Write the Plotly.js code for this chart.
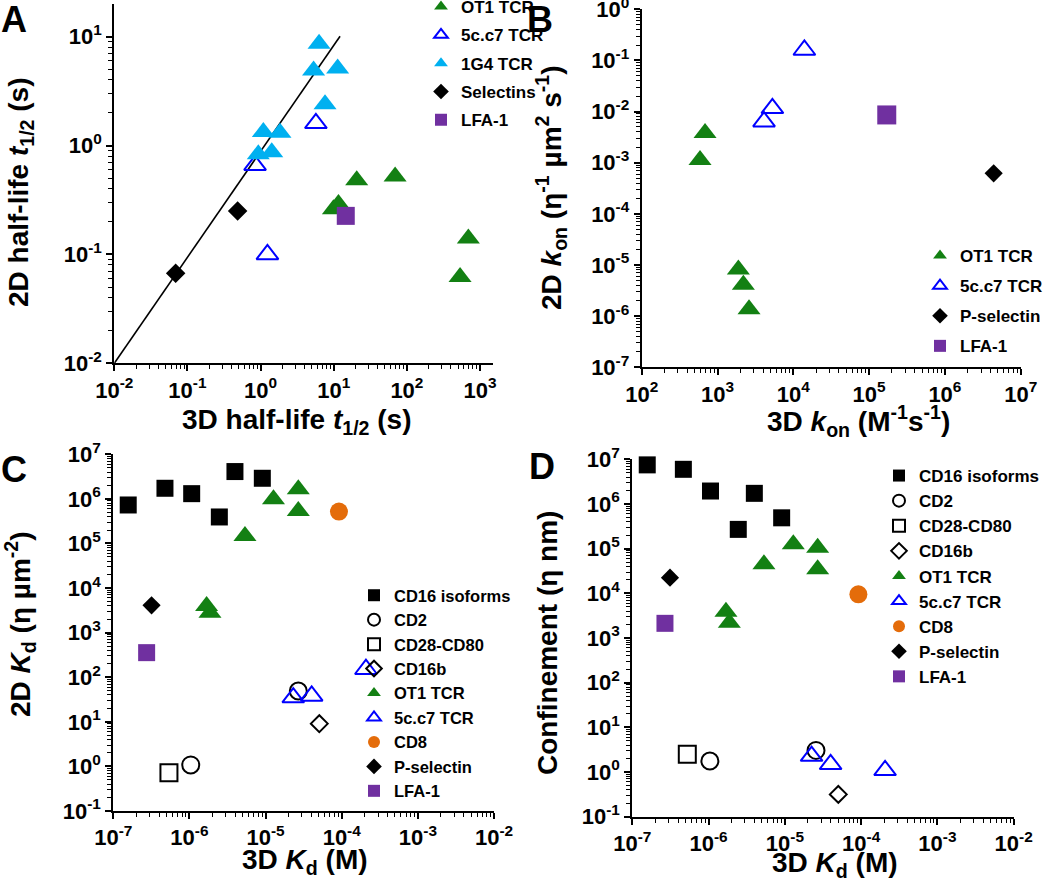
<!DOCTYPE html>
<html>
<head>
<meta charset="utf-8">
<script src="https://cdn.plot.ly/plotly-3.0.1.min.js"></script>
<style>html,body{margin:0;padding:0;background:#fff;}#chart{width:1050px;height:882px;}</style>
</head>
<body>
<div id="chart"></div>
<script>
// ---------- Panel A: 2D vs 3D half-life (s) ----------
const aOT1x = [20.6, 69, 9.9, 11.6, 692, 533];
const aOT1y = [0.48, 0.52, 0.26, 0.29, 0.14, 0.062];
const a5cc7x = [0.84, 5.7, 1.24];
const a5cc7y = [0.66, 1.6, 0.10];
const a1G4x = [6.3, 5.3, 11.3, 7.6, 1.09, 1.84, 0.93, 1.42];
const a1G4y = [8.6, 4.9, 5.1, 2.4, 1.33, 1.31, 0.83, 0.87];
const aSelx = [0.485, 0.069];
const aSely = [0.25, 0.067];
const aLFAx = [14.6];
const aLFAy = [0.226];
const aLinex = [0.01, 12.2];
const aLiney = [0.01, 10.1];

// ---------- Panel B: 2D kon vs 3D kon ----------
const bOT1x = [685, 588, 1885, 2194, 2606];
const bOT1y = [0.0038, 0.00113, 8.2e-6, 4.1e-6, 1.36e-6];
const b5cc7x = [14000, 5300, 4110];
const b5cc7y = [0.16, 0.0116, 0.00635];
const bPselx = [4.4e6];
const bPsely = [6.2e-4];
const bLFAx = [1.71e5];
const bLFAy = [0.0086];

// ---------- Panel C: 2D Kd vs 3D Kd ----------
const cCD16x = [1.57e-7, 4.77e-7, 1.07e-6, 2.47e-6, 3.96e-6, 9.06e-6];
const cCD16y = [7.3e5, 1.73e6, 1.31e6, 3.93e5, 4.1e6, 2.9e6];
const cCD2x = [2.69e-5, 1.04e-6];
const cCD2y = [49, 1.08];
const cCD28x = [5.38e-7];
const cCD28y = [0.72];
const cCD16bx = [5.08e-5];
const cCD16by = [9.1];
const cOT1x = [2.69e-5, 1.27e-5, 2.69e-5, 5.36e-6, 1.68e-6, 1.86e-6];
const cOT1y = [1.64e6, 9.8e5, 5.35e5, 1.47e5, 3960, 2810];
const c5cc7x = [2.31e-5, 4.03e-5, 2.08e-4];
const c5cc7y = [35, 38, 151];
const cCD8x = [9.2e-5];
const cCD8y = [5.2e5];
const cPselx = [3.18e-7];
const cPsely = [4100];
const cLFAx = [2.74e-7];
const cLFAy = [356];

// ---------- Panel D: Confinement vs 3D Kd ----------
const dCD16x = [1.57e-7, 4.67e-7, 1.06e-6, 3.98e-6, 9.08e-6, 2.45e-6];
const dCD16y = [7.5e6, 5.97e6, 1.95e6, 1.73e6, 4.9e5, 2.7e5];
const dCD2x = [2.56e-5, 1.04e-6];
const dCD2y = [3.05, 1.76];
const dCD28x = [5.26e-7];
const dCD28y = [2.49];
const dCD16bx = [5.02e-5];
const dCD16by = [0.316];
const dOT1x = [1.29e-5, 2.69e-5, 2.69e-5, 5.32e-6, 1.69e-6, 1.87e-6];
const dOT1y = [1.25e5, 1.05e5, 3.44e4, 4.46e4, 3890, 2200];
const d5cc7x = [2.24e-5, 3.98e-5, 2.06e-4];
const d5cc7y = [2.28, 1.49, 1.09];
const dCD8x = [9.2e-5];
const dCD8y = [9500];
const dPselx = [3.12e-7];
const dPsely = [2.24e4];
const dLFAx = [2.68e-7];
const dLFAy = [2130];

// tick labels (exponents of 10)
const aXticks = [-2, -1, 0, 1, 2, 3];
const aYticks = [-2, -1, 0, 1];
const bXticks = [2, 3, 4, 5, 6, 7];
const bYticks = [-7, -6, -5, -4, -3, -2, -1, 0];
const cdXticks = [-7, -6, -5, -4, -3, -2];
const cdYticks = [-1, 0, 1, 2, 3, 4, 5, 6, 7];

// ---------- styles ----------
const GREEN = '#138013', BLUE = '#0000ff', LBLUE = '#00b0f0', PURPLE = '#7030a0', ORANGE = '#e46c0a', BLACK = '#000000';
const FONT = 'Liberation Sans, Arial, sans-serif';

function pw(e) { return e.map(v => Math.pow(10, v)); }
function lab(e) { return e.map(v => '<b>10<sup>' + v + '</sup></b>'); }

function tr(x, y, name, sym, color, size, xa, ya, leg, open) {
  return {
    type: 'scatter', mode: 'markers', x: x, y: y, name: '<b>' + name + '</b>',
    xaxis: xa, yaxis: ya, legend: leg, legendgroup: leg + name,
    cliponaxis: false,
    marker: {
      symbol: sym, size: size, color: color,
      line: open ? { color: color, width: 2 } : { width: 0 }
    }
  };
}

const data = [
  { type: 'scatter', mode: 'lines', x: aLinex, y: aLiney, xaxis: 'x', yaxis: 'y',
    line: { color: 'black', width: 1.6 }, showlegend: false, hoverinfo: 'skip', legend: 'legend5' },
  tr(aOT1x, aOT1y, 'OT1 TCR', 'triangle-up', GREEN, 20, 'x', 'y', 'legend5'),
  tr(a5cc7x, a5cc7y, '5c.c7 TCR', 'triangle-up-open', BLUE, 19, 'x', 'y', 'legend5', true),
  tr(a1G4x, a1G4y, '1G4 TCR', 'triangle-up', LBLUE, 20, 'x', 'y', 'legend5'),
  tr(aSelx, aSely, 'Selectins', 'diamond', BLACK, 15, 'x', 'y', 'legend5'),
  tr(aLFAx, aLFAy, 'LFA-1', 'square', PURPLE, 18, 'x', 'y', 'legend5'),

  tr(bOT1x, bOT1y, 'OT1 TCR', 'triangle-up', GREEN, 20, 'x2', 'y2', 'legend2'),
  tr(b5cc7x, b5cc7y, '5c.c7 TCR', 'triangle-up-open', BLUE, 19, 'x2', 'y2', 'legend2', true),
  tr(bPselx, bPsely, 'P-selectin', 'diamond', BLACK, 14, 'x2', 'y2', 'legend2'),
  tr(bLFAx, bLFAy, 'LFA-1', 'square', PURPLE, 19, 'x2', 'y2', 'legend2'),

  tr(cCD16x, cCD16y, 'CD16 isoforms', 'square', BLACK, 17, 'x3', 'y3', 'legend3'),
  tr(cCD2x, cCD2y, 'CD2', 'circle-open', BLACK, 17, 'x3', 'y3', 'legend3', true),
  tr(cCD28x, cCD28y, 'CD28-CD80', 'square-open', BLACK, 17, 'x3', 'y3', 'legend3', true),
  tr(cCD16bx, cCD16by, 'CD16b', 'diamond-open', BLACK, 13, 'x3', 'y3', 'legend3', true),
  tr(cOT1x, cOT1y, 'OT1 TCR', 'triangle-up', GREEN, 20, 'x3', 'y3', 'legend3'),
  tr(c5cc7x, c5cc7y, '5c.c7 TCR', 'triangle-up-open', BLUE, 19, 'x3', 'y3', 'legend3', true),
  tr(cCD8x, cCD8y, 'CD8', 'circle', ORANGE, 18, 'x3', 'y3', 'legend3'),
  tr(cPselx, cPsely, 'P-selectin', 'diamond', BLACK, 14, 'x3', 'y3', 'legend3'),
  tr(cLFAx, cLFAy, 'LFA-1', 'square', PURPLE, 17, 'x3', 'y3', 'legend3'),

  tr(dCD16x, dCD16y, 'CD16 isoforms', 'square', BLACK, 17, 'x4', 'y4', 'legend4'),
  tr(dCD2x, dCD2y, 'CD2', 'circle-open', BLACK, 17, 'x4', 'y4', 'legend4', true),
  tr(dCD28x, dCD28y, 'CD28-CD80', 'square-open', BLACK, 17, 'x4', 'y4', 'legend4', true),
  tr(dCD16bx, dCD16by, 'CD16b', 'diamond-open', BLACK, 13, 'x4', 'y4', 'legend4', true),
  tr(dOT1x, dOT1y, 'OT1 TCR', 'triangle-up', GREEN, 20, 'x4', 'y4', 'legend4'),
  tr(d5cc7x, d5cc7y, '5c.c7 TCR', 'triangle-up-open', BLUE, 19, 'x4', 'y4', 'legend4', true),
  tr(dCD8x, dCD8y, 'CD8', 'circle', ORANGE, 18, 'x4', 'y4', 'legend4'),
  tr(dPselx, dPsely, 'P-selectin', 'diamond', BLACK, 14, 'x4', 'y4', 'legend4'),
  tr(dLFAx, dLFAy, 'LFA-1', 'square', PURPLE, 17, 'x4', 'y4', 'legend4')
];

const W = 1050, H = 882;
function fx(px) { return px / W; }
function fy(py) { return 1 - py / H; }

function axis(domain, range, ticks, anchor) {
  return {
    type: 'log', domain: domain, range: range, anchor: anchor,
    tickmode: 'array', tickvals: pw(ticks), ticktext: lab(ticks),
    showgrid: false, zeroline: false, showline: true, linecolor: 'black', linewidth: 2,
    ticks: 'outside', ticklen: 6, tickwidth: 2, tickcolor: 'black',
    ticklabeloverflow: 'allow',
    minor: { dtick: 'D1', ticks: 'outside', ticklen: 4, tickwidth: 1, tickcolor: 'black', showgrid: false },
    tickfont: { family: FONT, size: 22, color: 'black' },
    fixedrange: true
  };
}

function leg(xpx, ypx, gap, size, yanchor) {
  return { x: fx(xpx), y: fy(ypx), xref: 'paper', yref: 'paper', xanchor: 'left', yanchor: yanchor || 'top',
    bgcolor: 'rgba(0,0,0,0)',
    font: { family: FONT, size: size, color: 'black' },
    itemsizing: 'constant', traceorder: 'grouped', tracegroupgap: gap, borderwidth: 0 };
}

function ann(text, xpx, ypx, size, angle) {
  return { text: '<b>' + text + '</b>', xref: 'paper', yref: 'paper', x: fx(xpx), y: fy(ypx),
    xanchor: 'center', yanchor: 'middle', showarrow: false, textangle: angle || 0,
    font: { family: FONT, size: size, color: 'black' } };
}

const layout = {
  width: W, height: H, margin: { l: 0, r: 0, t: 0, b: 0, autoexpand: false },
  paper_bgcolor: 'white', plot_bgcolor: 'white', showlegend: true,
  xaxis: axis([fx(114.3), fx(492.7)], [-2, 3.173], aXticks, 'y'),
  yaxis: axis([fy(363.3), fy(4)], [-2, 1.3], aYticks, 'x'),
  xaxis2: axis([fx(641.7), fx(1020.7)], [2, 7], bXticks, 'y2'),
  yaxis2: axis([fy(367.3), fy(9.3)], [-7, 0], bYticks, 'x2'),
  xaxis3: axis([fx(113.3), fx(494)], [-7, -2], cdXticks, 'y3'),
  yaxis3: axis([fy(811), fy(454.3)], [-1, 7], cdYticks, 'x3'),
  xaxis4: axis([fx(632.3), fx(1013.7)], [-7, -2], cdXticks, 'y4'),
  yaxis4: axis([fy(816.7), fy(459.3)], [-1, 7], cdYticks, 'x4'),
  legend: { x: 0, y: 0, visible: false },
  legend5: leg(421, 138, 3.2, 17, 'bottom'),
  legend2: leg(920, 238, 5, 17),
  legend3: leg(354, 578, 0, 16.5),
  legend4: leg(879, 458, 0, 17),
  annotations: [
    ann('A', 14, 20, 36), ann('B', 540, 20, 36), ann('C', 14, 469, 36), ann('D', 542, 467, 36),
    ann('3D half-life <i>t</i><sub>1/2</sub> (s)', 297, 421, 28),
    ann('2D half-life <i>t</i><sub>1/2</sub> (s)', 20, 192, 28, -90),
    ann('3D <i>k</i><sub>on</sub> (M<sup>-1</sup>s<sup>-1</sup>)', 858, 421, 28),
    ann('2D <i>k</i><sub>on</sub> (η<sup>-1</sup> µm<sup>2</sup> s<sup>-1</sup>)', 551, 188, 28, -90),
    ann('3D <i>K</i><sub>d</sub> (M)', 305, 861, 28),
    ann('2D <i>K</i><sub>d</sub> (η µm<sup>-2</sup>)', 20, 624, 28, -90),
    ann('3D <i>K</i><sub>d</sub> (M)', 835, 864, 28),
    ann('Confinement (η nm)', 547, 643, 28, -90)
  ]
};

const gd = document.getElementById('chart');

// Nudge the panel-A legend so that its text starts where the reference's does.
function legendTextLeft(id) {
  const g = gd.querySelector('g.' + id);
  const t = g && g.querySelector('text.legendtext');
  if (!t) return null;
  return t.getBoundingClientRect().left - gd.getBoundingClientRect().left;
}
async function placeLegend(id, targetLeft) {
  let hist = [];
  for (let i = 0; i < 8; i++) {
    const left = legendTextLeft(id);
    if (left === null) return;
    const x = gd._fullLayout[id].x;
    const err = targetLeft - left;
    if (Math.abs(err) < 0.75) return;
    hist.push({ x: x, left: left });
    let slope = 1;
    if (hist.length >= 2) {
      const a = hist[hist.length - 2], b = hist[hist.length - 1];
      const dx = (b.x - a.x) * W;
      if (Math.abs(dx) > 0.1) {
        const s = (b.left - a.left) / dx;
        if (s > 0.3 && s < 5) slope = s;
      }
    }
    const upd = {};
    upd[id + '.x'] = x + err / slope / W;
    await Plotly.relayout(gd, upd);
  }
}

Plotly.newPlot(gd, data, layout, { displayModeBar: false, staticPlot: true })
  .then(() => placeLegend('legend5', 435));
</script>
</body>
</html>
